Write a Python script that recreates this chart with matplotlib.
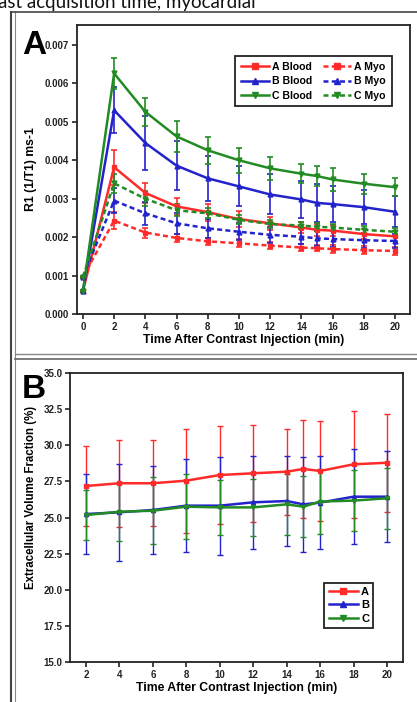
import matplotlib
matplotlib.use("Agg")
import matplotlib.pyplot as plt
from matplotlib.lines import Line2D
import numpy as np

plt.rcParams['font.family'] = ['Liberation Sans', 'DejaVu Sans']

# ---------------- Data: panel A ----------------
time_a = [0, 2, 4, 6, 8, 10, 12, 14, 15, 16, 18, 20]
a_blood = [0.00060, 0.00382, 0.00315, 0.00280, 0.00265, 0.00247, 0.00236, 0.00225, 0.00219, 0.00217, 0.00208, 0.00202]
a_blood_err = [0.00003, 0.00046, 0.00027, 0.00022, 0.00022, 0.00020, 0.00017, 0.00015, 0.00015, 0.00015, 0.00014, 0.00013]
b_blood = [0.00060, 0.00530, 0.00445, 0.00386, 0.00353, 0.00332, 0.00311, 0.00298, 0.00289, 0.00286, 0.00278, 0.00266]
b_blood_err = [0.00003, 0.00060, 0.00070, 0.00063, 0.00058, 0.00052, 0.00052, 0.00047, 0.00050, 0.00046, 0.00045, 0.00040]
c_blood = [0.00060, 0.00626, 0.00526, 0.00462, 0.00426, 0.00400, 0.00379, 0.00365, 0.00359, 0.00350, 0.00339, 0.00330]
c_blood_err = [0.00003, 0.00040, 0.00036, 0.00040, 0.00035, 0.00033, 0.00030, 0.00025, 0.00027, 0.00030, 0.00026, 0.00023]
a_myo = [0.00097, 0.00243, 0.00212, 0.00198, 0.00189, 0.00184, 0.00178, 0.00173, 0.00171, 0.00169, 0.00166, 0.00164]
a_myo_err = [0.00003, 0.00022, 0.00013, 0.00010, 0.00010, 0.00010, 0.00010, 0.00010, 0.00008, 0.00010, 0.00010, 0.00010]
b_myo = [0.00097, 0.00295, 0.00262, 0.00236, 0.00223, 0.00214, 0.00206, 0.00201, 0.00197, 0.00195, 0.00192, 0.00190]
b_myo_err = [0.00003, 0.00033, 0.00030, 0.00028, 0.00025, 0.00022, 0.00020, 0.00020, 0.00020, 0.00020, 0.00020, 0.00018]
c_myo = [0.00097, 0.00340, 0.00300, 0.00270, 0.00262, 0.00245, 0.00234, 0.00230, 0.00227, 0.00225, 0.00219, 0.00214]
c_myo_err = [0.00003, 0.00025, 0.00020, 0.00015, 0.00013, 0.00012, 0.00010, 0.00010, 0.00010, 0.00010, 0.00010, 0.00010]

# ---------------- Data: panel B ----------------
time_b = [2, 4, 6, 8, 10, 12, 14, 15, 16, 18, 20]
ecv_a = [27.18, 27.37, 27.37, 27.55, 27.94, 28.06, 28.17, 28.36, 28.22, 28.68, 28.79]
ecv_a_err = [2.75, 3.00, 2.97, 3.60, 3.37, 3.34, 2.97, 3.40, 3.48, 3.72, 3.40]
ecv_b = [25.24, 25.36, 25.52, 25.82, 25.82, 26.05, 26.14, 25.91, 26.03, 26.44, 26.44]
ecv_b_err = [2.77, 3.36, 3.05, 3.20, 3.40, 3.20, 3.14, 3.27, 3.20, 3.30, 3.13]
ecv_c = [25.17, 25.40, 25.47, 25.75, 25.70, 25.70, 25.91, 25.75, 26.10, 26.17, 26.33]
ecv_c_err = [1.70, 2.00, 2.30, 2.25, 1.90, 1.95, 2.13, 2.10, 2.27, 2.10, 2.13]

xticks_a = [0, 2, 4, 6, 8, 10, 12, 14, 16, 18, 20]
yticks_a = [0.000, 0.001, 0.002, 0.003, 0.004, 0.005, 0.006, 0.007]
xticks_b = [2, 4, 6, 8, 10, 12, 14, 16, 18, 20]
yticks_b = [15.0, 17.5, 20.0, 22.5, 25.0, 27.5, 30.0, 32.5, 35.0]

RED = '#ff2b2b'
BLUE = '#2323cc'
GREEN = '#238b23'
DASH = (0, (2, 1.3))

W, H = 417, 702
fig = plt.figure(figsize=(W / 100, H / 100), dpi=100)


def px_axes(l, t, r, b):
    return fig.add_axes([l / W, 1 - b / H, (r - l) / W, (b - t) / H])


def style_axes(ax):
    for s in ax.spines.values():
        s.set_linewidth(1.3)
        s.set_color('#222222')
    ax.tick_params(direction='out', length=3.5, width=1.2, labelsize=7, pad=2, colors='#222222')
    for lab in ax.get_xticklabels() + ax.get_yticklabels():
        lab.set_fontweight('bold')


# ---------------- Panel A ----------------
axA = px_axes(77, 25, 410, 314)
series_a = [
    (a_blood, a_blood_err, RED, 's', '-', 'A Blood'),
    (b_blood, b_blood_err, BLUE, '^', '-', 'B Blood'),
    (c_blood, c_blood_err, GREEN, 'v', '-', 'C Blood'),
    (a_myo, a_myo_err, RED, 's', DASH, 'A Myo'),
    (b_myo, b_myo_err, BLUE, '^', DASH, 'B Myo'),
    (c_myo, c_myo_err, GREEN, 'v', DASH, 'C Myo'),
]
handles = []
for y, e, c, m, ls, lab in series_a:
    axA.errorbar(time_a, y, yerr=e, color=c, marker=m, markersize=3.5,
                 linestyle=ls, linewidth=1.8, elinewidth=1.2, capsize=2.5,
                 capthick=1.2)
    handles.append(Line2D([], [], color=c, marker=m, markersize=4, linestyle=ls,
                          linewidth=1.8, label=lab))
axA.set_xlim(-0.38, 20.96)
axA.set_ylim(0, 0.00752)
axA.set_xticks(xticks_a)
axA.set_yticks(yticks_a)
axA.set_yticklabels([f'{v:.3f}' for v in yticks_a])
style_axes(axA)
axA.set_xlabel('Time After Contrast Injection (min)', fontsize=8.8, fontweight='bold', labelpad=2)
axA.set_ylabel('R1 (1/T1) ms-1', fontsize=8.8, fontweight='bold')
axA.yaxis.set_label_coords((37 - 77) / 333, 0.5)
legA = axA.legend(handles=handles, ncol=2, prop={'weight': 'bold', 'size': 7.6},
                  loc='upper right', bbox_to_anchor=(397 / W, 1 - 51 / H),
                  bbox_transform=fig.transFigure, frameon=True, fancybox=False,
                  edgecolor='#222222', framealpha=1, handlelength=2.6,
                  columnspacing=1.0, handletextpad=0.35, borderpad=0.55, labelspacing=0.4)
legA.get_frame().set_linewidth(1.3)

# ---------------- Panel B ----------------
axB = px_axes(70, 373, 403, 662)
series_b = [
    (ecv_a, ecv_a_err, RED, 's', 'A'),
    (ecv_b, ecv_b_err, BLUE, '^', 'B'),
    (ecv_c, ecv_c_err, GREEN, 'v', 'C'),
]
hb = []
for y, e, c, m, lab in series_b:
    axB.errorbar(time_b, y, yerr=e, color=c, marker=m, markersize=3,
                 linestyle='-', linewidth=1.8, elinewidth=1.0, capsize=2.5,
                 capthick=1.0)
    hb.append(Line2D([], [], color=c, marker=m, markersize=4, linestyle='-',
                     linewidth=1.8, label=lab))
axB.set_xlim(1.04, 20.96)
axB.set_ylim(15, 35)
axB.set_xticks(xticks_b)
axB.set_yticks(yticks_b)
axB.set_yticklabels([f'{v:.1f}' for v in yticks_b])
style_axes(axB)
axB.set_xlabel('Time After Contrast Injection (min)', fontsize=8.8, fontweight='bold', labelpad=2)
axB.set_ylabel('Extracellular Volume Fraction (%)', fontsize=8.3, fontweight='bold')
axB.yaxis.set_label_coords((37 - 70) / 333, (662 - 497) / 289)
legB = axB.legend(handles=hb, prop={'weight': 'bold', 'size': 8},
                  loc='upper right', bbox_to_anchor=(379 / W, 1 - 577 / H),
                  bbox_transform=fig.transFigure, frameon=True, fancybox=False,
                  edgecolor='#222222', framealpha=1, handlelength=2.6,
                  handletextpad=0.3, borderpad=0.4, labelspacing=0.3)
legB.get_frame().set_linewidth(1.3)

# ---------------- Panel letters ----------------
fig.text(22 / W, 1 - 54 / H, 'A', fontsize=24, fontweight='bold', va='baseline', ha='left')
fig.text(22 / W, 1 - 398 / H, 'B', fontsize=24, fontweight='bold', va='baseline', ha='left')

# ---------------- Frame lines ----------------
def fline(x0, y0, x1, y1, lw=1.2, c='#555555'):
    fig.add_artist(Line2D([x0 / W, x1 / W], [1 - y0 / H, 1 - y1 / H], transform=fig.transFigure,
                          color=c, linewidth=lw))

fline(11, 12, 11, 702, lw=1.5, c='#444444')
fline(14.5, 12, 14.5, 702, lw=0.8, c='#888888')
fline(11, 12, 417, 12, lw=1.2, c='#444444')
fline(14.5, 354, 417, 354, lw=1.0, c='#888888')
fline(14.5, 358.5, 417, 358.5, lw=1.2, c='#666666')

# cut-off caption at the top
fig.text(-2 / W, 1 - 8 / H, 'ast acquisition time, myocardial', fontsize=13.5,
         family=['Lato', 'DejaVu Sans'], va='baseline', ha='left', color='#111111')

fig.savefig('out.png', dpi=100)
